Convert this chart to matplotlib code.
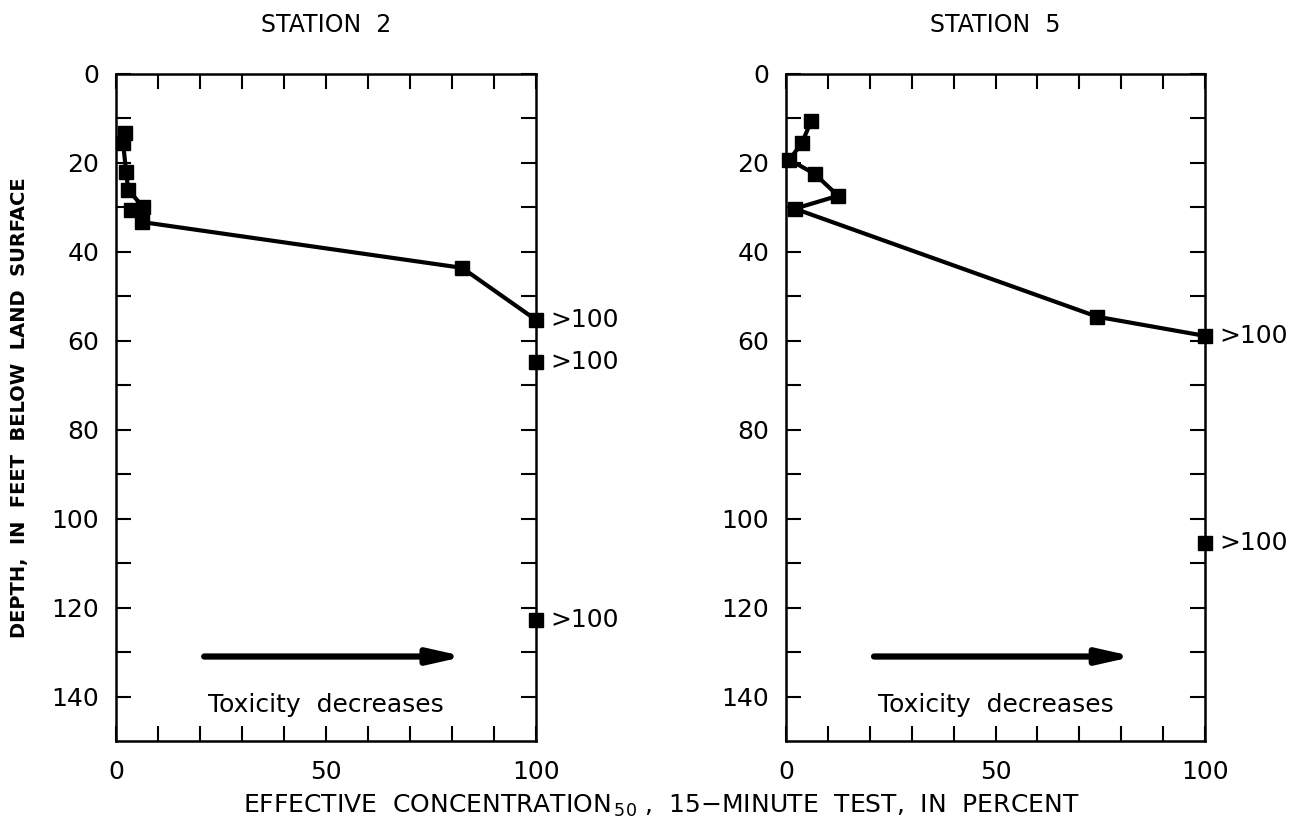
import matplotlib
matplotlib.use('Agg')
import matplotlib.pyplot as plt

# station 2: effective concentration (percent) vs depth (feet)
st2_conc = [2.1, 1.7, 2.4, 2.9, 6.4, 3.6, 6.2, 82.4, 100]
st2_depth = [13.3, 15.5, 22.0, 26.0, 29.9, 30.6, 33.3, 43.6, 55.3]
st2_extra_conc = [100, 100]
st2_extra_depth = [64.7, 122.9]
st2_gt = [55.3, 64.7, 122.9]

# station 5
st5_conc = [6.0, 3.8, 0.8, 6.9, 12.4, 2.1, 74.3, 100]
st5_depth = [10.6, 15.5, 19.3, 22.5, 27.4, 30.3, 54.6, 58.9]
st5_extra_conc = [100]
st5_extra_depth = [105.4]
st5_gt = [58.9, 105.4]

x_ticks = list(range(0, 101, 10))
x_labels = ['0', '', '', '', '', '50', '', '', '', '', '100']
y_ticks = list(range(0, 150, 10))
y_labels = [str(v) if v % 20 == 0 else '' for v in y_ticks]

plt.rcParams['font.family'] = 'DejaVu Sans'

fig = plt.figure(figsize=(12.96, 8.31), dpi=100)
ax1 = fig.add_axes([0.0895, 0.1083, 0.3241, 0.8027])
ax2 = fig.add_axes([0.6065, 0.1083, 0.3233, 0.8027])


def draw_panel(ax, conc, depth, xc, xd, gt, title):
    ax.plot(conc, depth, color='black', lw=3, marker='s', ms=10,
            clip_on=False, zorder=3)
    ax.plot(xc, xd, ls='none', color='black', marker='s', ms=10,
            clip_on=False, zorder=3)
    for d in gt:
        ax.text(103.5, d, '>100', fontsize=18, va='center', ha='left')
    ax.set_xlim(0, 100)
    ax.set_ylim(150, 0)
    ax.set_xticks(x_ticks)
    ax.set_xticklabels(x_labels)
    ax.set_yticks(y_ticks)
    ax.set_yticklabels(y_labels)
    ax.tick_params(direction='in', length=11, width=1.5, labelsize=18,
                   top=True, right=True)
    ax.tick_params(axis='x', pad=14)
    ax.tick_params(axis='y', pad=12)
    for s in ax.spines.values():
        s.set_linewidth(1.8)
    ax.annotate('', xy=(83, 131), xytext=(21, 131),
                arrowprops=dict(arrowstyle='-|>,head_length=2.0,head_width=0.45',
                                lw=4.5, color='black', shrinkA=0, shrinkB=0))
    ax.text(50, 142, 'Toxicity  decreases', fontsize=18, ha='center',
            va='center')
    ax.set_title(title, fontsize=17, pad=30)


draw_panel(ax1, st2_conc, st2_depth, st2_extra_conc, st2_extra_depth,
           st2_gt, 'STATION  2')
draw_panel(ax2, st5_conc, st5_depth, st5_extra_conc, st5_extra_depth,
           st5_gt, 'STATION  5')

ax1.set_ylabel('DEPTH,  IN  FEET  BELOW  LAND  SURFACE', fontsize=14,
               fontweight='bold', labelpad=16)
fig.text(0.51, 0.03,
         r'EFFECTIVE  CONCENTRATION$_{\,50}$ ,  15$-$MINUTE  TEST,  IN  PERCENT',
         fontsize=18, ha='center', va='center')

fig.savefig('out.png', dpi=100, facecolor='white')
